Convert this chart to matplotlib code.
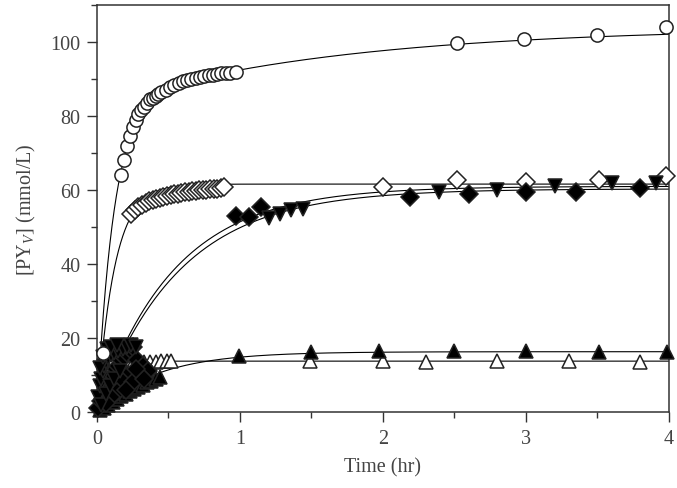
import numpy as np
import matplotlib
matplotlib.use("Agg")
import matplotlib.pyplot as plt
from matplotlib.ticker import MultipleLocator

plt.rcParams['font.family'] = ['Liberation Serif', 'DejaVu Serif']
plt.rcParams['mathtext.fontset'] = 'custom'
plt.rcParams['mathtext.rm'] = 'Liberation Serif'
plt.rcParams['mathtext.it'] = 'Liberation Serif:italic'

# ---------------- data (hours, mmol/L) ----------------
circle_t = [0.044, 0.17, 0.19, 0.21, 0.23, 0.25, 0.27, 0.29, 0.31, 0.33, 0.35, 0.37, 0.39,
            0.41, 0.43, 0.45, 0.48, 0.51, 0.54, 0.57, 0.60, 0.63, 0.66, 0.69, 0.72, 0.75,
            0.78, 0.81, 0.84, 0.87, 0.90, 0.93, 0.97, 2.52, 2.99, 3.50, 3.98]
circle_y = [16.0, 64.0, 68.0, 72.0, 74.5, 77.0, 79.0, 80.5, 81.5, 82.5, 83.5, 84.5, 85.0,
            85.5, 86.0, 86.5, 87.0, 87.8, 88.3, 89.0, 89.5, 89.8, 90.0, 90.2, 90.5, 90.8,
            91.0, 91.2, 91.4, 91.5, 91.6, 91.7, 91.8, 99.7, 100.8, 101.9, 104.0]

odiam_t = [0.24, 0.265, 0.29, 0.315, 0.34, 0.365, 0.39, 0.415, 0.44, 0.465, 0.49, 0.515,
           0.54, 0.565, 0.59, 0.615, 0.64, 0.665, 0.69, 0.715, 0.74, 0.765, 0.79, 0.815,
           0.84, 0.865, 0.89, 2.00, 2.52, 3.00, 3.51, 3.98]
odiam_y = [53.5, 54.5, 55.3, 56.0, 56.5, 57.0, 57.3, 57.6, 57.9, 58.2, 58.4, 58.6,
           58.8, 59.0, 59.2, 59.4, 59.5, 59.7, 59.8, 59.9, 60.0, 60.1, 60.2, 60.3,
           60.4, 60.5, 60.7, 60.7, 62.8, 62.3, 62.8, 63.9]

fdiam_t = [0.01, 0.03, 0.05, 0.07, 0.09, 0.11, 0.13, 0.15, 0.17, 0.19, 0.21, 0.23, 0.25,
           0.28, 0.32, 0.36, 0.30, 0.22, 0.18, 0.25, 0.14, 0.20, 0.10, 0.06, 0.33, 0.27,
           0.97, 1.06, 1.15, 2.19, 2.60, 3.00, 3.35, 3.80]
fdiam_y = [1.0, 3.0, 5.0, 7.0, 8.5, 10.0, 11.5, 12.5, 14.0, 15.0, 16.0, 17.0, 17.5,
           14.0, 12.5, 11.0, 10.0, 10.0, 8.0, 8.0, 5.5, 6.0, 4.0, 2.5, 9.0, 11.5,
           53.0, 52.7, 55.4, 58.0, 59.0, 59.5, 59.5, 60.5]

fdown_t = [0.01, 0.02, 0.03, 0.04, 0.05, 0.06, 0.08, 0.10, 0.12, 0.15, 0.18, 0.21, 0.24, 0.27,
           0.02, 0.04, 0.07, 0.10, 0.14, 0.03, 0.06, 0.09, 0.12, 0.16,
           1.20, 1.28, 1.36, 1.44, 2.39, 2.80, 3.20, 3.60, 3.91]
fdown_y = [4.0, 7.0, 9.0, 11.0, 12.5, 13.5, 14.5, 15.5, 16.0, 16.5, 17.0, 17.5, 18.0, 17.5,
           12.0, 15.0, 17.0, 17.5, 18.0, 2.0, 5.0, 7.0, 9.0, 11.0,
           52.5, 53.5, 54.5, 55.0, 59.5, 60.0, 61.0, 62.0, 62.0]

fup_t = [0.02, 0.05, 0.08, 0.11, 0.14, 0.17, 0.20, 0.23, 0.26, 0.29, 0.32, 0.35, 0.38, 0.41, 0.44,
         0.99, 1.50, 1.97, 2.50, 3.00, 3.51, 3.99]
fup_y = [0.5, 1.2, 2.0, 2.8, 3.6, 4.3, 5.0, 5.6, 6.2, 6.8, 7.4, 8.0, 8.5, 9.0, 9.5,
         15.1, 16.2, 16.5, 16.5, 16.5, 16.2, 16.2]

oup_t = [0.05, 0.09, 0.13, 0.17, 0.21, 0.25, 0.29, 0.33, 0.37, 0.41, 0.45, 0.49, 0.52,
         1.49, 2.00, 2.30, 2.80, 3.30, 3.80]
oup_y = [6.0, 9.0, 11.0, 12.2, 12.8, 13.2, 13.4, 13.5, 13.6, 13.6, 13.7, 13.8, 13.8,
         13.7, 13.7, 13.6, 13.7, 13.7, 13.6]

# fitted model parameters: y = A1(1-exp(-k1 t)) + A2(1-exp(-k2 t))
fit_circle = (83.0, 8.5, 21.0, 0.6)
fit_odiam = (61.6, 8.2, 0.0, 1.0)
fit_fdiam = (60.3, 1.75, 0.0, 1.0)
fit_fdown = (61.0, 1.85, 0.0, 1.0)
fit_fup = (16.3, 2.4, 0.0, 1.0)
fit_oup = (13.75, 14.0, 0.0, 1.0)


def model(t, p):
    a1, k1, a2, k2 = p
    return a1 * (1 - np.exp(-k1 * t)) + a2 * (1 - np.exp(-k2 * t))


fig = plt.figure(figsize=(6.77, 4.89), dpi=100)
ax = fig.add_axes([0.1433, 0.1554, 0.8447, 0.8323])

tt = np.linspace(0, 4, 800)
for p in [fit_circle, fit_odiam, fit_fdiam, fit_fdown, fit_fup, fit_oup]:
    ax.plot(tt, model(tt, p), color='black', lw=0.8, zorder=2)

mk = dict(linestyle='none', markeredgewidth=1.1, markeredgecolor='#222222', clip_on=False)
ax.plot(oup_t, oup_y, marker='^', markersize=10, markerfacecolor='white', zorder=3, **mk)
ax.plot(odiam_t, odiam_y, marker='D', markersize=9.5, markerfacecolor='white', zorder=3, **mk)
ax.plot(fup_t, fup_y, marker='^', markersize=10.5, markerfacecolor='black', zorder=4, **mk)
ax.plot(fdiam_t, fdiam_y, marker='D', markersize=9.5, markerfacecolor='black', zorder=4, **mk)
ax.plot(fdown_t, fdown_y, marker='v', markersize=10.5, markerfacecolor='black', zorder=4, **mk)
ax.plot(circle_t, circle_y, marker='o', markersize=9.5, markerfacecolor='white', zorder=5, **mk)

ax.set_xlim(0, 4)
ax.set_ylim(0, 110)
ax.set_xticks([0, 1, 2, 3, 4])
ax.set_yticks([0, 20, 40, 60, 80, 100])
ax.xaxis.set_minor_locator(MultipleLocator(0.5))
ax.yaxis.set_minor_locator(MultipleLocator(10))
ax.tick_params(which='both', direction='out', top=False, right=False,
               colors='#333333', labelcolor='#444444', labelsize=14.5, width=1.0)
ax.tick_params(which='major', length=7, pad=5)
ax.tick_params(which='minor', length=4.5)
for s in ax.spines.values():
    s.set_linewidth(1.1)
    s.set_color('#333333')

ax.set_xlabel('Time (hr)', fontsize=14.5, color='#444444', labelpad=7)
ax.set_ylabel(r'[PY$_{V}$] (mmol/L)', fontsize=14.5, color='#444444', labelpad=9)

fig.savefig('out.png', dpi=100)
